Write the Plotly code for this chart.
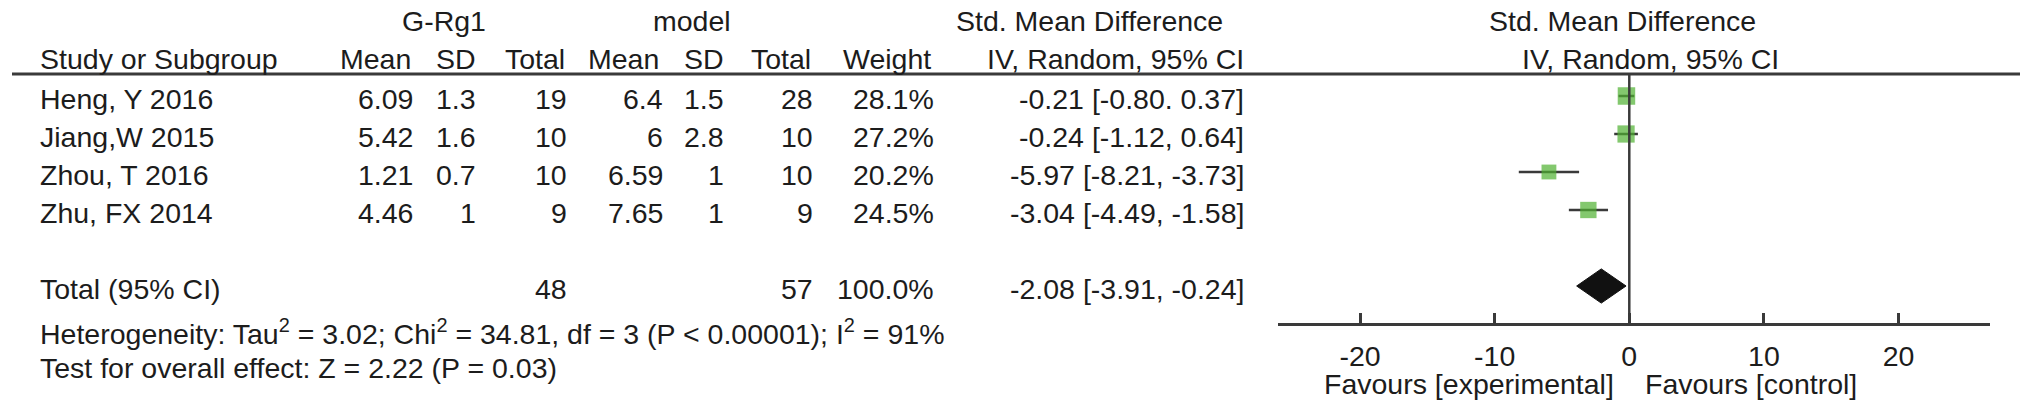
import plotly.graph_objects as go
import math

# ---------------- data ----------------
studies = ["Heng, Y 2016", "Jiang,W 2015", "Zhou, T 2016", "Zhu, FX 2014"]
exp_mean = [6.09, 5.42, 1.21, 4.46]
exp_sd = [1.3, 1.6, 0.7, 1]
exp_n = [19, 10, 10, 9]
ctl_mean = [6.4, 6, 6.59, 7.65]
ctl_sd = [1.5, 2.8, 1, 1]
ctl_n = [28, 10, 10, 9]
weights = [28.1, 27.2, 20.2, 24.5]
smd = [-0.21, -0.24, -5.97, -3.04]
ci_lo = [-0.80, -1.12, -8.21, -4.49]
ci_hi = [0.37, 0.64, -3.73, -1.58]
smd_labels = ["-0.21 [-0.80. 0.37]", "-0.24 [-1.12, 0.64]",
              "-5.97 [-8.21, -3.73]", "-3.04 [-4.49, -1.58]"]

total_label = "Total (95% CI)"
total_exp_n = 48
total_ctl_n = 57
total_weight = "100.0%"
pooled = -2.08
pooled_lo = -3.91
pooled_hi = -0.24
pooled_label = "-2.08 [-3.91, -0.24]"

exp_group = "G-Rg1"
ctl_group = "model"
col_headers = ["Mean", "SD", "Total", "Mean", "SD", "Total", "Weight"]
het_text = ("Heterogeneity: Tau<sup>2</sup> = 3.02; Chi<sup>2</sup> = 34.81, df = 3 "
            "(P < 0.00001); I<sup>2</sup> = 91%")
test_text = "Test for overall effect: Z = 2.22 (P = 0.03)"
tick_vals = [-20, -10, 0, 10, 20]
tick_text = ["-20", "-10", "0", "10", "20"]
favours_left = "Favours [experimental]"
favours_right = "Favours [control]"

# ---------------- layout constants ----------------
W, H = 2031, 418
FONT = "Liberation Sans, Arial, sans-serif"
FS = 28.5
TXT = "#1c1c1c"
LINE = "#3a3a3a"
GREEN = "#4fb130"
DY = -4  # text vertical correction (px)

def px(x):
    return x / W

def py(y):
    return 1 - (y + DY) / H

rows = list(range(len(studies)))
total_row = len(studies) + 1

fig = go.Figure()

# CI lines
cx, cy = [], []
for r, lo, hi in zip(rows, ci_lo, ci_hi):
    cx += [lo, hi, None]
    cy += [r, r, None]
fig.add_trace(go.Scatter(x=cx, y=cy, mode="lines",
                         line=dict(color=LINE, width=2.5),
                         hoverinfo="skip", showlegend=False))

# squares sized by weight
sizes = [17.5 * math.sqrt(w / max(weights)) for w in weights]
fig.add_trace(go.Scatter(x=smd, y=rows, mode="markers",
                         marker=dict(symbol="square", size=sizes, color=GREEN,
                                     line=dict(width=0)),
                         showlegend=False))

# pooled diamond
hh = 0.45
fig.add_trace(go.Scatter(
    x=[pooled_lo, pooled, pooled_hi, pooled, pooled_lo],
    y=[total_row, total_row - hh, total_row, total_row + hh, total_row],
    mode="lines", fill="toself", fillcolor="#111111",
    line=dict(color="#111111", width=1), showlegend=False))

ann = []

def A(text, x, y, xanchor="right", xref="paper", yref="paper", yshift=0, size=FS):
    ann.append(dict(text=text, x=x, y=y, xref=xref, yref=yref,
                    xanchor=xanchor, yanchor="middle", showarrow=False,
                    yshift=yshift, font=dict(family=FONT, size=size, color=TXT)))

# header row 1
A(exp_group, px(444), py(25), "center")
A(ctl_group, px(692), py(25), "center")
A("Std. Mean Difference", px(1089), py(25), "center")
A("Std. Mean Difference", px(1622), py(25), "center")

# header row 2
A("Study or Subgroup", px(38), py(63), "left")
hdr_right = [413, 478, 567, 661, 726, 813, 933]
for t, xr in zip(col_headers, hdr_right):
    A(t, px(xr), py(63), "right")
A("IV, Random, 95% CI", px(1246), py(63), "right")
A("IV, Random, 95% CI", px(1650), py(63), "center")

# data rows
col_right = [415, 478, 569, 665, 726, 815, 936, 1246]
TS = -7 - DY
for i, r in enumerate(rows):
    vals = [f"{exp_mean[i]:g}", f"{exp_sd[i]:g}", str(exp_n[i]),
            f"{ctl_mean[i]:g}", f"{ctl_sd[i]:g}", str(ctl_n[i]),
            f"{weights[i]:.1f}%", smd_labels[i]]
    A(studies[i], px(38), r, "left", yref="y", yshift=TS)
    for v, xr in zip(vals, col_right):
        A(v, px(xr), r, "right", yref="y", yshift=TS)

# total row
A(total_label, px(38), total_row, "left", yref="y", yshift=TS)
A(str(total_exp_n), px(569), total_row, "right", yref="y", yshift=TS)
A(str(total_ctl_n), px(815), total_row, "right", yref="y", yshift=TS)
A(total_weight, px(936), total_row, "right", yref="y", yshift=TS)
A(pooled_label, px(1246), total_row, "right", yref="y", yshift=TS)

# footer text
A(het_text, px(38), py(336), "left")
A(test_text, px(38), py(372), "left")

# favours labels (in axis units)
A(favours_left, -1, py(388), "right", xref="x")
A(favours_right, 1, py(388), "left", xref="x")

shapes = [
    dict(type="line", xref="paper", yref="paper", x0=px(12), x1=px(2020),
         y0=1 - 74 / H, y1=1 - 74 / H, line=dict(color=LINE, width=3)),
    dict(type="line", xref="x", yref="paper", x0=0, x1=0,
         y0=1 - 323 / H, y1=1 - 74 / H, line=dict(color=LINE, width=2.5)),
]

fig.update_layout(
    width=W, height=H, margin=dict(l=0, r=0, t=0, b=0),
    paper_bgcolor="white", plot_bgcolor="white",
    annotations=ann, shapes=shapes,
    xaxis=dict(domain=[px(1278), px(1990)], range=[-26.1, 26.8],
               showline=True, linecolor=LINE, linewidth=3,
               ticks="inside", ticklen=10, tickwidth=2.5, tickcolor=LINE,
               tickvals=tick_vals, ticktext=tick_text,
               tickfont=dict(family=FONT, size=FS, color=TXT),
               ticklabelstandoff=6,
               showgrid=False, zeroline=False, fixedrange=True),
    yaxis=dict(domain=[1 - 323 / H, 1], range=[(323 - 96) / 38, -96 / 38],
               visible=False, fixedrange=True),
    showlegend=False,
)

fig.write_html("out.html", config={"displayModeBar": False},
               post_script="document.body.style.margin='0';")
